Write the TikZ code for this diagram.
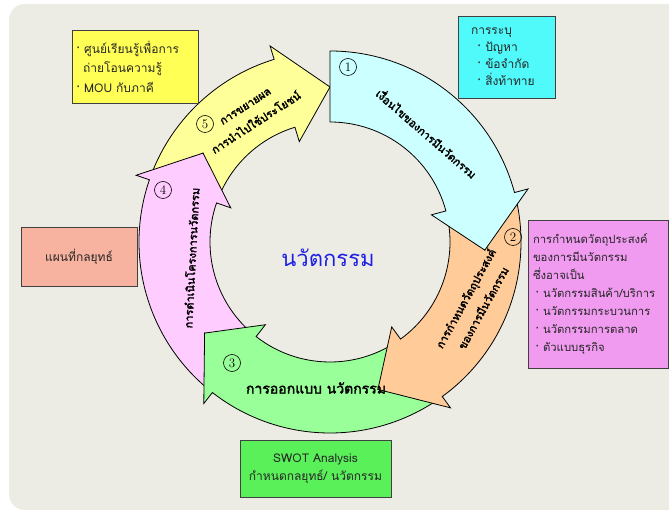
\documentclass[tikz,border=0pt]{standalone}
\usepackage{fontspec}
\newfontfamily\thai[Script=Thai]{Loma}
\newfontfamily\thaiheavy[Script=Thai,FakeBold=2.5]{Loma}
\definecolor{bgpanel}{RGB}{236,236,228}
\definecolor{boxline}{RGB}{64,64,64}
\definecolor{armcyan}{RGB}{204,255,255}
\definecolor{armorange}{RGB}{255,204,153}
\definecolor{armgreen}{RGB}{153,255,153}
\definecolor{armpink}{RGB}{255,204,255}
\definecolor{armyellow}{RGB}{255,255,153}
\definecolor{boxyellow}{RGB}{255,255,85}
\definecolor{boxcyan}{RGB}{80,250,250}
\definecolor{boxviolet}{RGB}{240,155,240}
\definecolor{boxsalmon}{RGB}{248,178,160}
\definecolor{boxgreen}{RGB}{90,240,90}
\definecolor{hubblue}{RGB}{30,30,230}
% colour, tail angle, notch angle, head base angle, tip angle
\newcommand{\cyclearrow}[5]{%
  \filldraw[ring,fill=#1] (#2:191pt) arc[start angle=#2,end angle=#4,radius=191pt]
    -- (#4:205pt) -- (#5:155pt) -- (#4:105pt) -- (#4:120pt)
    arc[start angle=#4,end angle=#2,radius=120pt] -- (#3:155pt) -- cycle;}
\begin{document}
\begin{tikzpicture}[x=1pt,y=1pt,
  ring/.style={draw=black,line width=0.8pt},
  infobox/.style={draw=boxline,line width=0.9pt,text=black!85,font=\thai\fontsize{12}{18}\selectfont},
  arrowtext/.style={align=center,font=\thaiheavy\fontsize{11}{20}\selectfont},
  stepnum/.style={circle,draw,line width=0.6pt,minimum size=17pt,inner sep=0pt,font=\fontsize{13}{13}\selectfont}]
  \useasboundingbox (0,0) rectangle (669,514);
  \fill[bgpanel,rounded corners=16pt] (9,4) rectangle (700,510);

  % the ring, last one on top
  \begin{scope}[shift={(330,272)}]
    \cyclearrow{armyellow}{161}{145}{107}{90}
    \cyclearrow{armpink}{232}{216}{161}{145}
    \cyclearrow{armgreen}{306}{288}{232}{216}
    \cyclearrow{armorange}{15}{-3}{-54}{-72}
    \cyclearrow{armcyan}{90}{90}{15}{-3}
  \end{scope}

  \node[arrowtext,rotate=-41] (t1) at (427,381) {เงื่อนไขของการมีนวัตกรรม};
  \node[arrowtext,rotate=61] (t2) at (474,211) {การกำหนดวัตถุประสงค์\\ของการมีนวัตกรรม};
  \node[arrowtext,font=\thaiheavy\fontsize{14}{20}\selectfont] (t3) at (316,126) {การออกแบบ นวัตกรรม};
  \node[arrowtext,rotate=87] (t4) at (191,256) {การดำเนินโครงการนวัตกรรม};
  \node[arrowtext,rotate=33] (t5) at (251,399) {การขยายผล\\การนำไปใช้ประโยชน์};

  \node[stepnum] (n1) at (348,447) {1};
  \node[stepnum] (n2) at (513,277) {2};
  \node[stepnum] (n3) at (232,151) {3};
  \node[stepnum] (n4) at (163,324) {4};
  \node[stepnum] (n5) at (205,390) {5};

  \node[font=\thai\fontsize{22}{22}\selectfont,text=hubblue] (hub) at (328,256) {นวัตกรรม};

  \node[infobox,fill=boxyellow,align=left,text width=118pt,inner xsep=4pt,minimum height=73pt,
    font=\thai\fontsize{12}{19.5}\selectfont] (share) at (135,447.5)
    {· ศูนย์เรียนรู้เพื่อการ\\\hspace*{0.6em}ถ่ายโอนความรู้\\· MOU กับภาคี};
  \node[infobox,fill=boxcyan,align=left,text width=71pt,inner xsep=13pt,minimum height=82pt,
    font=\thai\fontsize{12}{17}\selectfont] (issue) at (506.5,457)
    {การระบุ\\\hspace*{0.5em}· ปัญหา\\\hspace*{0.5em}· ข้อจำกัด\\\hspace*{0.5em}· สิ่งท้าทาย};
  \node[infobox,fill=boxviolet,align=left,text width=130pt,inner xsep=5pt,minimum height=148pt,
    font=\thai\fontsize{11.3}{18}\selectfont] (goal) at (598,220)
    {การกำหนดวัตถุประสงค์\\ของการมีนวัตกรรม\\ซึ่งอาจเป็น\\\mbox{\hspace*{0.2em}· นวัตกรรมสินค้า/บริการ}\\\hspace*{0.2em}· นวัตกรรมกระบวนการ\\\hspace*{0.2em}· นวัตกรรมการตลาด\\\hspace*{0.2em}· ตัวแบบธุรกิจ};
  \node[infobox,fill=boxsalmon,align=center,text width=100pt,inner xsep=8pt,minimum height=59pt] (map) at (79,257.5)
    {แผนที่กลยุทธ์};
  \node[infobox,fill=boxgreen,align=center,text width=135pt,inner xsep=8pt,minimum height=57pt] (swot) at (315.5,45.5)
    {SWOT Analysis\\กำหนดกลยุทธ์/ นวัตกรรม};
\end{tikzpicture}
\end{document}
